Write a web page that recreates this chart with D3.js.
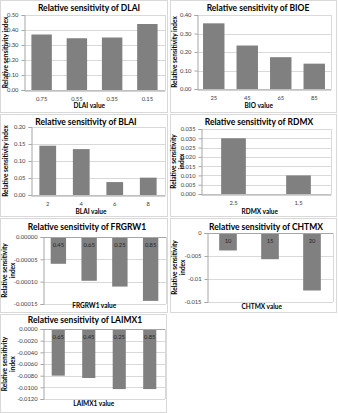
<!DOCTYPE html>
<html>
<head>
<meta charset="utf-8">
<script src="https://cdn.jsdelivr.net/npm/d3@7"></script>
<style>
  body { margin: 0; background: #fff; }
  svg { display: block; }
  text { font-family: Lato, "Open Sans", sans-serif; }
</style>
</head>
<body>
<svg id="chart" width="338" height="413"></svg>
<script>
// values
var dlaiCats = ["0.75", "0.55", "0.35", "0.15"];
var dlaiVals = [0.37, 0.345, 0.35, 0.44];
var dlaiTicks = [0, 0.1, 0.2, 0.3, 0.4, 0.5];

var bioCats = ["25", "45", "65", "85"];
var bioVals = [0.355, 0.235, 0.172, 0.137];
var bioTicks = [0, 0.1, 0.2, 0.3, 0.4];

var blaiCats = ["2", "4", "6", "8"];
var blaiVals = [0.145, 0.135, 0.038, 0.051];
var blaiTicks = [0, 0.05, 0.1, 0.15, 0.2];

var rdmxCats = ["2.5", "1.5"];
var rdmxVals = [0.030, 0.010];
var rdmxTicks = [0, 0.005, 0.01, 0.015, 0.02, 0.025, 0.03, 0.035];

var frgCats = ["0.45", "0.65", "0.25", "0.85"];
var frgVals = [-0.00006, -0.000098, -0.000111, -0.000143];
var frgTicks = [0, -0.00005, -0.0001, -0.00015];

var chtCats = ["10", "15", "20"];
var chtVals = [-0.0038, -0.0057, -0.0125];
var chtTicks = [0, -0.005, -0.01, -0.015];

var laiCats = ["0.65", "0.45", "0.25", "0.85"];
var laiVals = [-0.0080, -0.0084, -0.0103, -0.0103];
var laiTicks = [0, -0.002, -0.004, -0.006, -0.008, -0.01, -0.012];

var loc = d3.formatLocale({ decimal: ".", thousands: ",", grouping: [3], currency: ["", ""], minus: "-" });

var svg = d3.select("#chart");
var barColor = "#808080";
var gridColor = "#d9d9d9";
var frameColor = "#d9d9d9";

var panels = [
	{ title: "Relative sensitivity of DLAI", xTitle: "DLAI value", cats: dlaiCats, vals: dlaiVals, ticks: dlaiTicks, fmt: loc.format(".2f"),
	  box: [0, 0, 168, 113], plot: [24, 15, 165, 90], pad: 0.42, yTitle: ["Relative sensitivity index"], yTitleX: 8, xTitleY: 108, titleX: 89, titleY: 11 },
	{ title: "Relative sensitivity of BIOE", xTitle: "BIO value", cats: bioCats, vals: bioVals, ticks: bioTicks, fmt: loc.format(".2f"),
	  box: [170, 0, 337, 113], plot: [197, 15, 331, 89], pad: 0.36, yTitle: ["Relative sensitivity index"], yTitleX: 177, xTitleY: 108, titleX: 258, titleY: 11 },
	{ title: "Relative sensitivity of BLAI", xTitle: "BLAI value", cats: blaiCats, vals: blaiVals, ticks: blaiTicks, fmt: loc.format(".2f"),
	  box: [0, 114, 168, 217], plot: [31, 127, 165, 195], pad: 0.5, yTitle: ["Relative sensitivity index"], yTitleX: 8, xTitleY: 214, titleX: 86, titleY: 125 },
	{ title: "Relative sensitivity of RDMX", xTitle: "RDMX value", cats: rdmxCats, vals: rdmxVals, ticks: rdmxTicks, fmt: loc.format(".3f"),
	  box: [170, 114, 337, 217], plot: [201, 129, 331, 194], pad: 0.62, yTitle: ["Relative sensitivity", "index"], yTitleX: 176, xTitleY: 214, titleX: 259, titleY: 125 },
	{ title: "Relative sensitivity of FRGRW1", xTitle: "FRGRW1 value", cats: frgCats, vals: frgVals, ticks: frgTicks, fmt: loc.format(".5f"),
	  box: [0, 218, 168, 313], plot: [43, 237, 166, 304], pad: 0.5, yTitle: ["Relative sensitivity", "index"], yTitleX: 7, xTitleY: 308, titleX: 87, titleY: 230, labels: true },
	{ title: "Relative sensitivity of CHTMX", xTitle: "CHTMX value", cats: chtCats, vals: chtVals, ticks: chtTicks, fmt: function(d){ return d === 0 ? "0" : loc.format("")(d); },
	  box: [170, 218, 337, 313], plot: [207, 233, 333, 302], pad: 0.58, yTitle: ["Relative sensitivity", "index"], yTitleX: 177, xTitleY: 309, titleX: 266, titleY: 230, labels: true },
	{ title: "Relative sensitivity of LAIMX1", xTitle: "LAIMX1 value", cats: laiCats, vals: laiVals, ticks: laiTicks, fmt: loc.format(".4f"),
	  box: [0, 314, 167, 413], plot: [43, 329, 165, 399], pad: 0.57, yTitle: ["Relative sensitivity", "index"], yTitleX: 7, xTitleY: 406, titleX: 85, titleY: 323, labels: true }
];

panels.forEach(drawPanel);

function drawPanel(p) {
	var g = svg.append("g");
	var b = p.box, pl = p.plot;

	// chart frame
	g.append("rect")
		.attr("x", b[0] + 0.5).attr("y", b[1] + 0.5)
		.attr("width", b[2] - b[0] - 1).attr("height", b[3] - b[1] - 1)
		.attr("fill", "none").attr("stroke", frameColor);

	var ext = d3.extent(p.ticks);
	var y = d3.scaleLinear().domain([ext[0], ext[1]]).range([pl[3], pl[1]]);
	var x = d3.scaleBand().domain(p.cats).range([pl[0], pl[2]]).paddingInner(p.pad).paddingOuter(p.pad / 2);

	// gridlines
	g.selectAll(".grid").data(p.ticks).enter().append("line")
		.attr("x1", pl[0]).attr("x2", pl[2])
		.attr("y1", function(d){ return Math.round(y(d)) + 0.5; })
		.attr("y2", function(d){ return Math.round(y(d)) + 0.5; })
		.attr("stroke", gridColor).attr("stroke-width", 1);

	// plot-area border on the right
	g.append("line").attr("x1", pl[2] + 0.5).attr("x2", pl[2] + 0.5).attr("y1", pl[1]).attr("y2", pl[3])
		.attr("stroke", gridColor);

	// bars
	g.selectAll(".bar").data(p.vals).enter().append("rect")
		.attr("x", function(d, i){ return x(p.cats[i]); })
		.attr("width", x.bandwidth())
		.attr("y", function(d){ return Math.min(y(d), y(0)); })
		.attr("height", function(d){ return Math.abs(y(d) - y(0)); })
		.attr("fill", barColor);

	// y axis
	var yAxis = d3.axisLeft(y).tickValues(p.ticks).tickFormat(p.fmt).tickSize(3).tickPadding(3);
	var ya = g.append("g").attr("transform", "translate(" + (pl[0] + 0.5) + ",0)").call(yAxis);
	ya.select(".domain").attr("stroke", "#a6a6a6");
	ya.selectAll(".tick line").attr("stroke", "#a6a6a6");
	ya.selectAll(".tick text").attr("fill", "#404040").style("font-size", "5.8px");

	// category axis
	var zeroY = Math.round(y(0)) + 0.5;
	if (p.labels) {
		g.append("line").attr("x1", pl[0]).attr("x2", pl[2]).attr("y1", zeroY).attr("y2", zeroY).attr("stroke", "#a6a6a6");
		g.selectAll(".lab").data(p.cats).enter().append("text")
			.attr("x", function(d){ return x(d) + x.bandwidth() / 2; })
			.attr("y", zeroY + 9)
			.attr("text-anchor", "middle")
			.attr("fill", "#262626")
			.style("font-size", "5.8px")
			.text(function(d){ return d; });
	} else {
		var xAxis = d3.axisBottom(x).tickSize(0).tickPadding(6);
		var xa = g.append("g").attr("transform", "translate(0," + zeroY + ")").call(xAxis);
		xa.select(".domain").attr("stroke", "#a6a6a6");
		xa.selectAll(".tick text").attr("fill", "#404040").style("font-size", "5.8px");
	}

	// titles
	g.append("text")
		.attr("x", p.titleX).attr("y", p.titleY)
		.attr("text-anchor", "middle")
		.attr("fill", "#000").style("font-size", "8.5px").style("font-weight", "bold")
		.text(p.title);

	g.append("text")
		.attr("x", ((b[0] + b[2]) / 2 + (pl[0] + pl[2]) / 2) / 2).attr("y", p.xTitleY)
		.attr("text-anchor", "middle")
		.attr("fill", "#000").style("font-size", "6.5px").style("font-weight", "bold")
		.text(p.xTitle);

	var yt = g.append("text")
		.attr("transform", "translate(" + p.yTitleX + "," + ((pl[1] + pl[3]) / 2) + ") rotate(-90)")
		.attr("text-anchor", "middle")
		.attr("fill", "#000").style("font-size", "6.5px").style("font-weight", "bold");
	p.yTitle.forEach(function(line, i){
		yt.append("tspan").attr("x", 0).attr("dy", i === 0 ? 0 : 8).text(line);
	});
}
</script>
</body>
</html>
